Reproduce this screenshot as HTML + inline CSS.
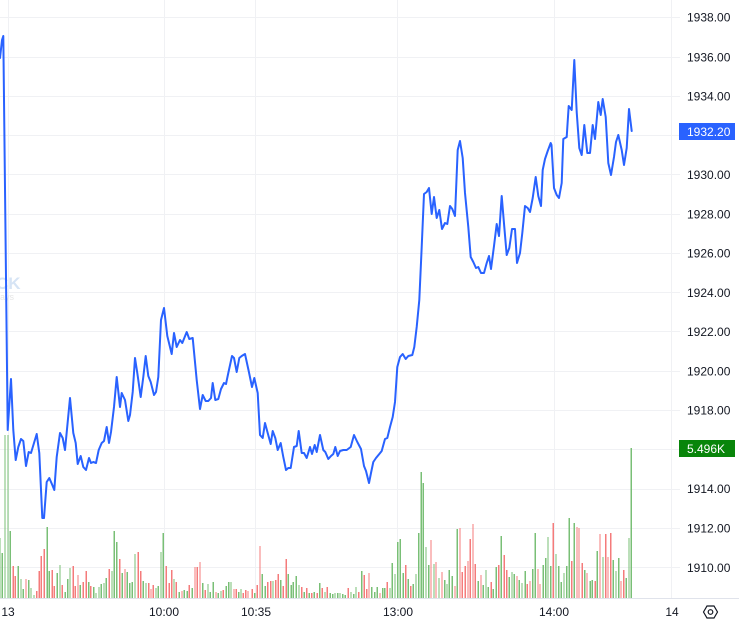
<!DOCTYPE html>
<html><head><meta charset="utf-8"><style>
html,body{margin:0;padding:0;background:#fff;}
svg{display:block;font-family:"Liberation Sans",Arial,sans-serif;}
</style></head><body>
<svg width="739" height="623" viewBox="0 0 739 623" xmlns="http://www.w3.org/2000/svg">
<rect width="739" height="623" fill="#fff"/>
<g stroke="#f0f1f4" stroke-width="1" shape-rendering="crispEdges">
<line x1="0" x2="680" y1="17.5" y2="17.5"/>
<line x1="0" x2="680" y1="57.5" y2="57.5"/>
<line x1="0" x2="680" y1="96.5" y2="96.5"/>
<line x1="0" x2="680" y1="135.5" y2="135.5"/>
<line x1="0" x2="680" y1="174.5" y2="174.5"/>
<line x1="0" x2="680" y1="214.5" y2="214.5"/>
<line x1="0" x2="680" y1="253.5" y2="253.5"/>
<line x1="0" x2="680" y1="292.5" y2="292.5"/>
<line x1="0" x2="680" y1="331.5" y2="331.5"/>
<line x1="0" x2="680" y1="371.5" y2="371.5"/>
<line x1="0" x2="680" y1="410.5" y2="410.5"/>
<line x1="0" x2="680" y1="449.5" y2="449.5"/>
<line x1="0" x2="680" y1="489.5" y2="489.5"/>
<line x1="0" x2="680" y1="528.5" y2="528.5"/>
<line x1="0" x2="680" y1="567.5" y2="567.5"/>
<line x1="8.5" x2="8.5" y1="0" y2="598"/>
<line x1="164.5" x2="164.5" y1="0" y2="598"/>
<line x1="255.5" x2="255.5" y1="0" y2="598"/>
<line x1="397.5" x2="397.5" y1="0" y2="598"/>
<line x1="554.5" x2="554.5" y1="0" y2="598"/>
<line x1="671.5" x2="671.5" y1="0" y2="598"/>
</g>
<text x="-4" y="289" font-size="17" font-weight="bold" fill="#d6e4f5">CK</text>
<text x="0" y="300" font-size="9" fill="#e6e6e6">ays</text>
<path fill="none" stroke="#79bf76" stroke-width="1.3" shape-rendering="crispEdges" d="M0 538V598M2.3 553V598M5 435V598M8 435V598M10.3 531V598M18.3 566V598M21 579V598M23.3 589V598M28.7 580V598M31 588V598M34 595V598M47.3 527V598M49.3 571V598M57.3 573V598M60 565V598M65.3 592V598M67.7 579V598M70 568V598M80.3 585V598M88.7 582V598M93.7 587V598M96 593V598M99 587V598M101.3 584V598M104 583V598M106.3 578V598M112 571V598M114.3 531V598M116.7 542V598M122.3 573V598M127.3 572V598M129.7 583V598M132.3 582V598M135 554V598M143.3 581V598M146 583V598M156 588V598M158.3 586V598M161 552V598M163.3 533V598M174 579V598M179.3 592V598M184.3 590V598M187.3 591V598M192.3 588V598M202.7 583V598M208 584V598M210.3 592V598M213.3 582V598M218.3 593V598M221 591V598M226.3 586V598M228.7 582V598M231 582V598M238.7 592V598M241 589V598M254.7 593V598M262.3 574V598M265.3 586V598M273 581V598M280.7 580V598M288.3 574V598M291.3 585V598M293.3 582V598M296.3 576V598M299 585V598M304.3 592V598M309.3 593V598M314.3 592V598M319.7 583V598M325 592V598M330.3 593V598M332.7 594V598M335 593V598M337.7 593V598M340 593V598M342.7 594V598M345.3 595V598M351 592V598M353.7 594V598M356 587V598M361.7 571V598M371.7 587V598M374.7 592V598M377.3 587V598M382.7 588V598M384.7 588V598M390 588V598M392.3 563V598M395 574V598M397.7 542V598M400.3 539V598M403.3 573V598M408.3 579V598M413.3 584V598M416 574V598M418.7 533V598M421.3 472V598M423.3 483V598M426 547V598M428.7 565V598M434 564V598M439 578V598M444.7 580V598M447 584V598M449.3 570V598M452.3 576V598M457.3 529V598M478.3 581V598M483.3 585V598M486 570V598M488.3 587V598M493.3 589V598M496.3 567V598M501.3 536V598M509.3 577V598M512 572V598M514.3 574V598M519.3 580V598M522 583V598M525.3 571V598M532.7 569V598M535.3 533V598M543.3 565V598M545.7 558V598M548 537V598M550.7 566V598M556 554V598M558.7 566V598M561.3 582V598M564 573V598M566.7 566V598M569.3 518V598M574.3 523V598M584.7 570V598M590.3 581V598M592.3 580V598M597.3 551V598M603 557V598M613.3 560V598M616 571V598M618.7 558V598M626.3 578V598M629 538V598M631.3 448V598"/>
<path fill="none" stroke="#f47b7b" stroke-width="1.3" shape-rendering="crispEdges" d="M13.3 566V598M15.3 576V598M26 579V598M36.7 591V598M39.3 571V598M41.3 556V598M44.3 549V598M52.3 570V598M54.3 586V598M62.3 585V598M73.3 566V598M75.3 586V598M78 575V598M83.3 582V598M86.3 571V598M90.7 586V598M109.3 569V598M119.7 559V598M125 569V598M138.3 552V598M140.7 571V598M148.7 583V598M151 589V598M153.3 585V598M166.3 566V598M169.3 583V598M171.7 570V598M176.3 582V598M182 591V598M189.3 585V598M195 567V598M197.3 567V598M200 562V598M205.3 590V598M216 592V598M223.3 590V598M234 589V598M236.3 589V598M243.3 593V598M245.7 590V598M248 591V598M252.3 589V598M257.3 585V598M260 546V598M267.7 582V598M270.7 581V598M275.7 580V598M278.3 574V598M283.3 586V598M286.3 559V598M301.7 587V598M306.7 588V598M311.7 593V598M317.3 593V598M322.3 588V598M327.3 587V598M348.3 588V598M358.7 592V598M364.3 575V598M366.7 589V598M369 573V598M380 593V598M387.3 582V598M405.7 565V598M410.7 586V598M431 540V598M436 562V598M442 572V598M455 586V598M460 528V598M462.3 572V598M465.3 566V598M468 561V598M470.3 539V598M473 524V598M475.3 564V598M481 575V598M491.3 582V598M498.7 565V598M504.3 555V598M506.7 570V598M517 576V598M527.3 584V598M530 581V598M538 569V598M540 584V598M553.3 523V598M571.7 561V598M577 527V598M579 528V598M582.3 563V598M587 573V598M595.3 581V598M600 534V598M605.7 534V598M608 557V598M610.7 533V598M621 581V598M623.7 570V598"/>
<polyline fill="none" stroke="#2962ff" stroke-width="2" stroke-linejoin="round" stroke-linecap="round" points="0,58 2,40 3.3,36 7.7,430 11,379 13.3,430 15.7,460 18.3,447 21,439 23.3,441 26,466 28.7,452 31,453 36.7,434 39.3,453 42.3,518 44,518 46.7,482 49.3,478 52.3,485 54.3,490 56.7,457 60,433 62.7,438 65,450 70,398 73.3,433 75.7,443 77.7,464 80.7,456 83.3,467 86,470 89,458 91,463 93.3,462 96,463 98.7,450 101.7,443 104,441 106.7,427 109,443 111,432 114,407 116.7,377 120,407 121.7,393 125,400 128.3,421 130,415 132.7,392 135,358 137.3,373 140.7,397 143.3,377 145.7,356 148.3,376 150.7,382 154,395 156,392 158.3,377 161,320 164,308 167.3,336 171.7,354 174,333 176.7,347 180,340 182.3,343 186.7,332 189.3,339 192.7,338 196.7,380 200,409 202.7,395 205.7,401 208.3,401 211,398 212.7,383 215.3,400 218.3,399 221,389 224,383 226,384 228.3,373 232,356 234,358 236.7,372 239.3,358 241.7,356 245,354 248.7,371 252,387 254.3,378 257.7,393 260,435 262.7,438 265,423 267.7,433 270.7,444 272.7,431 275.3,438 277.7,450 280.7,443 283.3,457 286,470 288.3,468 290.7,468 294,447 296.7,446 298.7,431 301.7,453 304,453 306.7,458 310,447 312,454 314.7,445 316.7,452 320,435 323.3,450 325.3,452 328.3,459 331,456 333.3,454 335.3,447 337.7,456 340,451 343.3,450 346.7,450 350.7,447 354,435 357.3,442 361,449 364,466 366,471 369,483 371,473 373.3,462 376,458 379.3,454 381.7,451 385,439 387.3,438 390,427 392.7,417 395,402 397.3,367 400,357 402.7,354 405.7,359 408.3,356 412.3,355 414.3,347 416.7,327 419.3,300 421.7,247 424,194 426.7,192 429,188 431.7,214 434,197 436.7,218 439.3,210 442,229 445,223 447.3,224 450,206 452.3,209 455,216 457.7,150 460,141 462.7,158 465,193 468.3,227 470.7,257 473.3,262 476,268 478.3,267 481,273 484,273 486.7,263 489,256 491,269 494,246 496.7,224 499,236 501.7,196 504.3,227 506.7,255 509.3,248 512,229 515,229 517,263 520,253 522.3,233 525,206 527.7,208 530,212 532.7,198 535.7,177 538.3,196 541,206 542.7,170 545,159 547.7,151 550.7,143 551.5,145 554,188 556.7,195 559,198 561.7,183 563.3,139 566.7,137 568.7,106 571.7,110 574.3,60 576.7,112 579.3,148 581.7,155 584.3,125 587.3,153 590,153 592.7,125 595,139 598.3,102 600.7,115 602.7,99 605.7,117 608.3,163 611,175 614,157 616,142 618.3,135 621.7,150 624,165 626.7,148 629,109 631.7,131"/>
<line x1="0" x2="739" y1="598.5" y2="598.5" stroke="#e0e3eb" stroke-width="1"/>
<g font-size="12" fill="#131722">
<text x="687" y="21.6">1938.00</text>
<text x="687" y="61.3">1936.00</text>
<text x="687" y="100.5">1934.00</text>
<text x="687" y="179">1930.00</text>
<text x="687" y="218.3">1928.00</text>
<text x="687" y="257.6">1926.00</text>
<text x="687" y="296.8">1924.00</text>
<text x="687" y="336.2">1922.00</text>
<text x="687" y="375.4">1920.00</text>
<text x="687" y="414.7">1918.00</text>
<text x="687" y="493.2">1914.00</text>
<text x="687" y="532.6">1912.00</text>
<text x="687" y="571.8">1910.00</text>
</g>
<rect x="679" y="123" width="56" height="17" fill="#2962ff"/>
<text x="687" y="135.8" font-size="12" fill="#fff">1932.20</text>
<rect x="679" y="440" width="56" height="17" fill="#08850a"/>
<text x="687" y="452.8" font-size="12" fill="#fff">5.496K</text>
<g font-size="12" fill="#131722" text-anchor="middle">
<text x="8" y="616">13</text>
<text x="164" y="616">10:00</text>
<text x="256" y="616">10:35</text>
<text x="398" y="616">13:00</text>
<text x="554" y="616">14:00</text>
<text x="672" y="616">14</text>
</g>
<polygon points="703.5,612 707,606 714,606 717.5,612 714,618 707,618" fill="none" stroke="#131722" stroke-width="1.2"/>
<circle cx="710.5" cy="612" r="2.3" fill="none" stroke="#131722" stroke-width="1.2"/>
</svg>
</body></html>
